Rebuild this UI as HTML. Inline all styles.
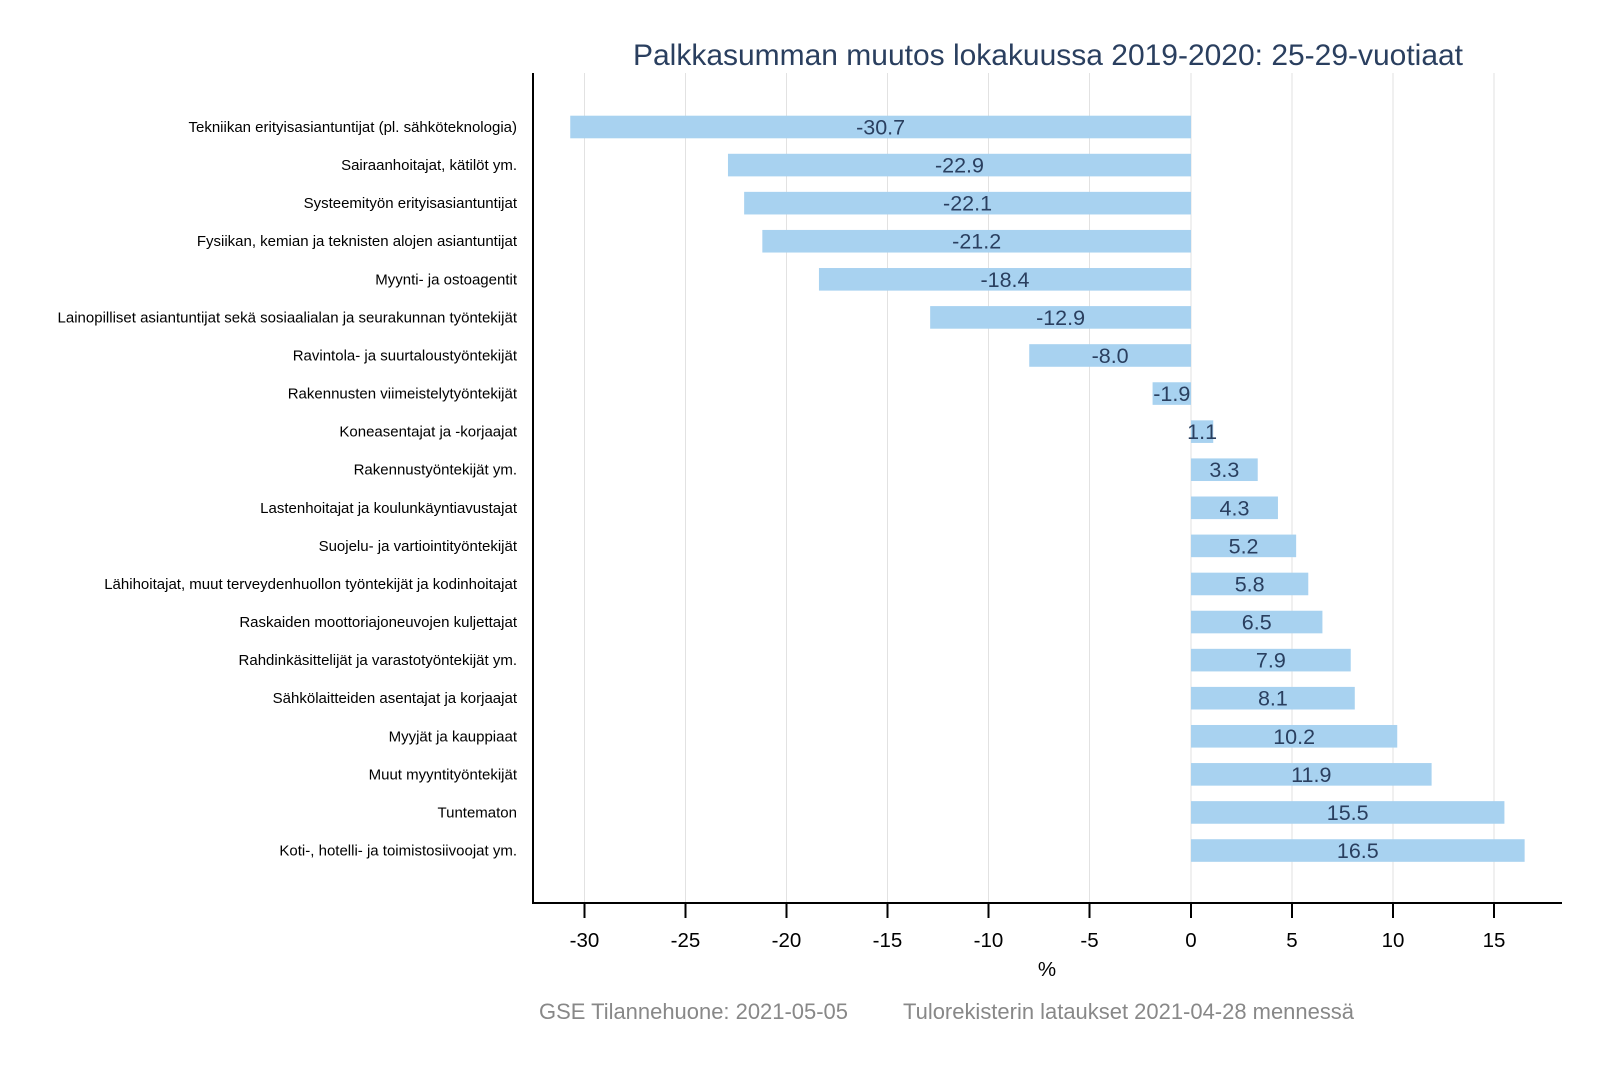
<!DOCTYPE html>
<html><head><meta charset="utf-8"><style>html,body{margin:0;padding:0;background:#fff}svg{display:block}</style></head><body>
<svg width="1600" height="1067" xmlns="http://www.w3.org/2000/svg" font-family="Liberation Sans, Arial, sans-serif">
<rect width="1600" height="1067" fill="#fff"/>
<g stroke="#e2e2e2" stroke-width="1">
<line x1="584.5" y1="73" x2="584.5" y2="903"/><line x1="685.5" y1="73" x2="685.5" y2="903"/><line x1="786.5" y1="73" x2="786.5" y2="903"/><line x1="887.5" y1="73" x2="887.5" y2="903"/><line x1="988.5" y1="73" x2="988.5" y2="903"/><line x1="1089.5" y1="73" x2="1089.5" y2="903"/><line x1="1191" y1="73" x2="1191" y2="903"/><line x1="1292" y1="73" x2="1292" y2="903"/><line x1="1393" y1="73" x2="1393" y2="903"/><line x1="1494" y1="73" x2="1494" y2="903"/>
</g>
<g id="bars" fill="#a8d2f0"></g>
<g stroke="#000" stroke-width="2"><line x1="533" y1="73" x2="533" y2="904"/><line x1="532" y1="903" x2="1562" y2="903"/>
<line x1="584.5" y1="903" x2="584.5" y2="918"/><line x1="685.5" y1="903" x2="685.5" y2="918"/><line x1="786.5" y1="903" x2="786.5" y2="918"/><line x1="887.5" y1="903" x2="887.5" y2="918"/><line x1="988.5" y1="903" x2="988.5" y2="918"/><line x1="1089.5" y1="903" x2="1089.5" y2="918"/><line x1="1191" y1="903" x2="1191" y2="918"/><line x1="1292" y1="903" x2="1292" y2="918"/><line x1="1393" y1="903" x2="1393" y2="918"/><line x1="1494" y1="903" x2="1494" y2="918"/></g>
<g font-size="20.5" text-anchor="middle" fill="#000">
<text x="584.5" y="947">-30</text><text x="685.5" y="947">-25</text><text x="786.5" y="947">-20</text><text x="887.5" y="947">-15</text><text x="988.5" y="947">-10</text><text x="1089.5" y="947">-5</text><text x="1191" y="947">0</text><text x="1292" y="947">5</text><text x="1393" y="947">10</text><text x="1494" y="947">15</text>
<text x="1047" y="976">%</text></g>
<text x="633" y="65" font-size="30" textLength="830" lengthAdjust="spacingAndGlyphs" fill="#2a3f5f">Palkkasumman muutos lokakuussa 2019-2020: 25-29-vuotiaat</text>
<text x="539" y="1019" font-size="22" textLength="309" lengthAdjust="spacingAndGlyphs" fill="#888">GSE Tilannehuone: 2021-05-05</text>
<text x="903" y="1019" font-size="22" textLength="451" lengthAdjust="spacingAndGlyphs" fill="#888">Tulorekisterin lataukset 2021-04-28 mennessä</text>
<g id="labels" font-size="15" text-anchor="end" fill="#000"></g>
<g id="vals" font-size="21.5" text-anchor="middle" fill="#2a3f5f"></g>
<script>
var d=[["Tekniikan erityisasiantuntijat (pl. sähköteknologia)",-30.7],["Sairaanhoitajat, kätilöt ym.",-22.9],["Systeemityön erityisasiantuntijat",-22.1],["Fysiikan, kemian ja teknisten alojen asiantuntijat",-21.2],["Myynti- ja ostoagentit",-18.4],["Lainopilliset asiantuntijat sekä sosiaalialan ja seurakunnan työntekijät",-12.9],["Ravintola- ja suurtaloustyöntekijät",-8.0],["Rakennusten viimeistelytyöntekijät",-1.9],["Koneasentajat ja -korjaajat",1.1],["Rakennustyöntekijät ym.",3.3],["Lastenhoitajat ja koulunkäyntiavustajat",4.3],["Suojelu- ja vartiointityöntekijät",5.2],["Lähihoitajat, muut terveydenhuollon työntekijät ja kodinhoitajat",5.8],["Raskaiden moottoriajoneuvojen kuljettajat",6.5],["Rahdinkäsittelijät ja varastotyöntekijät ym.",7.9],["Sähkölaitteiden asentajat ja korjaajat",8.1],["Myyjät ja kauppiaat",10.2],["Muut myyntityöntekijät",11.9],["Tuntematon",15.5],["Koti-, hotelli- ja toimistosiivoojat ym.",16.5]];
var ns="http://www.w3.org/2000/svg",z=1191,k=20.22;
function el(p,t,a,txt){var e=document.createElementNS(ns,t);for(var q in a)e.setAttribute(q,a[q]);if(txt)e.textContent=txt;document.getElementById(p).appendChild(e);}
d.forEach(function(r,i){var cy=127+i*38.08,v=r[1],x1=Math.min(z,z+v*k),w=Math.abs(v*k);
el("bars","rect",{x:x1,y:cy-11.3,width:w,height:22.6});
el("labels","text",{x:517,y:cy+5},r[0]);
el("vals","text",{x:x1+w/2,y:cy+7.5},v.toFixed(1));});
</script>
</svg>
</body></html>
